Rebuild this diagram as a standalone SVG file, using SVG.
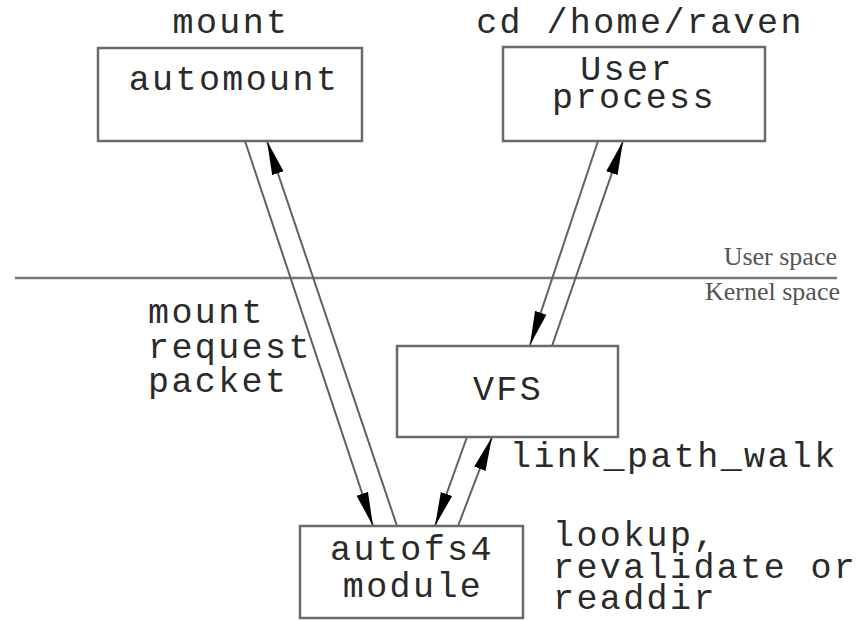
<svg xmlns="http://www.w3.org/2000/svg" width="857" height="621" viewBox="0 0 857 621">
<style>
.box{fill:#fff;stroke:#6a6a6a;stroke-width:2.5}
.t{font-family:"Liberation Mono","Courier New",monospace;font-size:35px;letter-spacing:2.4px;fill:#2a2a2a}
.c{text-anchor:middle}
.s{font-family:"Liberation Serif","Times New Roman",serif;font-size:26px;fill:#555;text-anchor:end}
.ln{stroke:#606060;stroke-width:2;fill:none;marker-end:url(#ah)}
</style>
<defs>
<marker id="ah" markerUnits="userSpaceOnUse" markerWidth="34" markerHeight="14" refX="34" refY="7" orient="auto">
<path d="M0,1 L34,7 L0,13 z" fill="#000"/>
</marker>
</defs>
<rect width="857" height="621" fill="#fff"/>
<g id="divider">
<line x1="15" y1="278" x2="837" y2="278" stroke="#777" stroke-width="2.5"/>
<text class="s" x="837" y="265">User space</text>
<text class="s" x="840" y="300">Kernel space</text>
</g>
<g id="connectors">
<line class="ln" x1="245" y1="141" x2="373" y2="526"/>
<line class="ln" x1="397" y1="526" x2="267" y2="141"/>
<line class="ln" x1="598" y1="141" x2="530" y2="345"/>
<line class="ln" x1="552" y1="346" x2="623" y2="141"/>
<line class="ln" x1="467" y1="437" x2="435" y2="526"/>
<line class="ln" x1="458" y1="526" x2="492" y2="437"/>
</g>
<g id="automount">
<rect class="box" x="98" y="48" width="264" height="93"/>
<text class="t c" x="231" y="33">mount</text>
<text class="t c" x="234" y="90">automount</text>
</g>
<g id="user-process">
<rect class="box" x="503" y="47" width="262" height="94"/>
<text class="t c" x="640" y="33">cd /home/raven</text>
<text class="t c" x="627" y="80">User</text>
<text class="t c" x="634" y="108">process</text>
</g>
<g id="vfs">
<rect class="box" x="397" y="346" width="221" height="91"/>
<text class="t c" x="508" y="400">VFS</text>
</g>
<g id="autofs4">
<rect class="box" x="300" y="526" width="223" height="92"/>
<text class="t c" x="412" y="560">autofs4</text>
<text class="t c" x="413" y="597">module</text>
</g>
<g id="labels">
<text class="t" x="148" y="323">mount</text>
<text class="t" x="148" y="358">request</text>
<text class="t" x="148" y="392">packet</text>
<text class="t" x="510" y="467">link_path_walk</text>
<text class="t" x="553" y="546">lookup,</text>
<text class="t" x="553" y="578">revalidate or</text>
<text class="t" x="553" y="609">readdir</text>
</g>
</svg>
